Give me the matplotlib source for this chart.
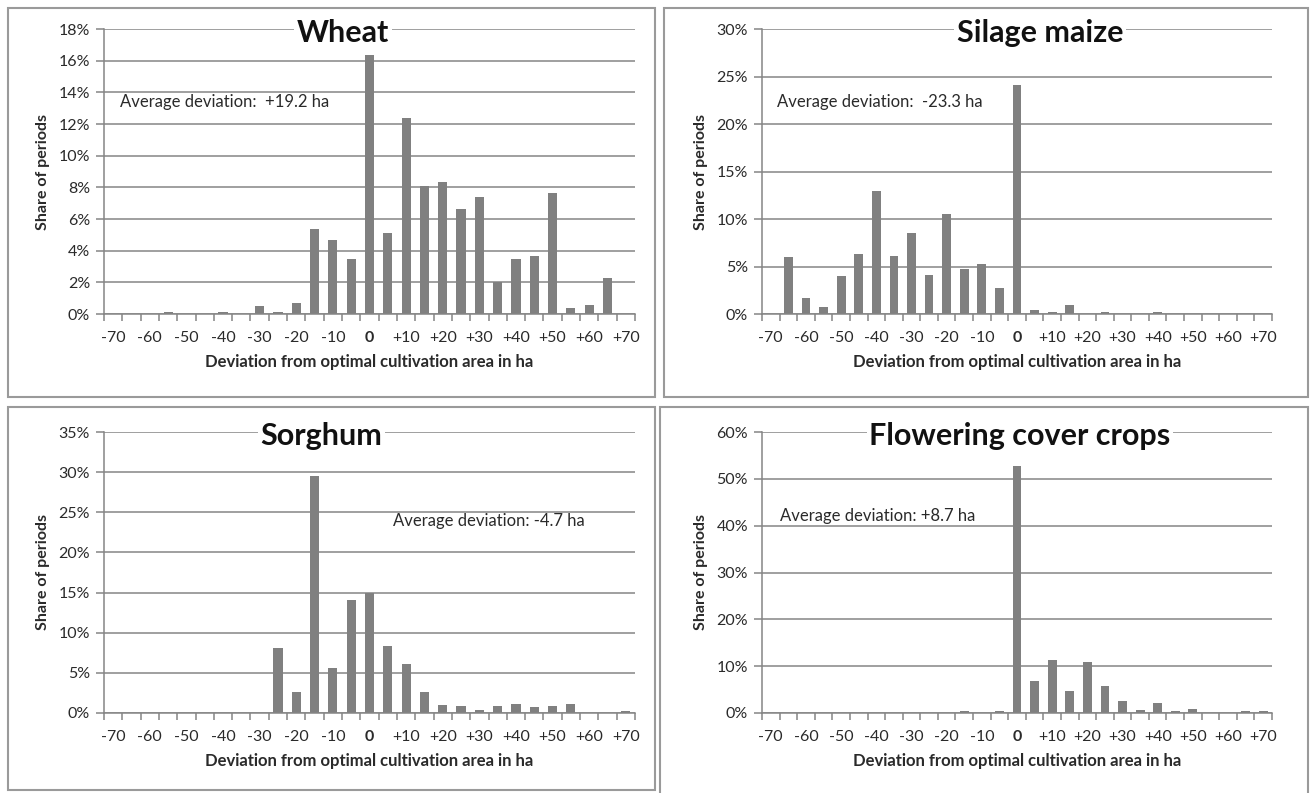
import matplotlib
matplotlib.use("Agg")
import matplotlib.pyplot as plt
from matplotlib.patches import Rectangle
import numpy as np

plt.rcParams['font.family'] = ['Lato', 'DejaVu Sans']

# ---- data ----
deviation = list(range(-70, 75, 5))  # categories (ha)
tick_labels = ['-70', '-60', '-50', '-40', '-30', '-20', '-10', '0',
               '+10', '+20', '+30', '+40', '+50', '+60', '+70']

wheat = [0, 0, 0, 0.1, 0, 0, 0.1, 0, 0.5, 0.1, 0.7, 5.35, 4.65, 3.5, 16.35,
         5.1, 12.35, 8.1, 8.35, 6.65, 7.4, 2.0, 3.5, 3.65, 7.65, 0.35, 0.55, 2.3, 0]
silage_maize = [0, 5.95, 1.7, 0.7, 3.95, 6.35, 12.9, 6.1, 8.5, 4.15, 10.5, 4.7, 5.25, 2.7,
                24.15, 0.4, 0.2, 0.9, 0, 0.2, 0, 0, 0.2, 0, 0, 0, 0, 0, 0]
sorghum = [0, 0, 0, 0, 0, 0, 0, 0, 0, 8.1, 2.65, 29.5, 5.65, 14.05, 15.0, 8.4, 6.1,
           2.65, 1.05, 0.85, 0.35, 0.85, 1.15, 0.7, 0.85, 1.15, 0, 0, 0.2]
flowering = [0, 0, 0, 0, 0, 0, 0, 0, 0, 0, 0, 0.4, 0, 0.4, 52.8, 6.9, 11.4, 4.6, 10.9,
             5.8, 2.6, 0.6, 2.1, 0.4, 0.9, 0, 0, 0.4, 0.4]

titles = ['Wheat', 'Silage maize', 'Sorghum', 'Flowering cover crops']
avg_texts = ['Average deviation:  +19.2 ha', 'Average deviation:  -23.3 ha',
             'Average deviation: -4.7 ha', 'Average deviation: +8.7 ha']
ymaxes = [18, 30, 35, 60]
ysteps = [2, 5, 5, 10]
series = [wheat, silage_maize, sorghum, flowering]

# ---- layout (pixels) ----
W, H = 1310, 793
fig = plt.figure(figsize=(W / 100, H / 100), dpi=100)

def fx(px):
    return px / W

def fy(py):
    return 1 - py / H

axes_px = [(104, 29, 635, 314), (762, 29, 1272, 314),
           (104, 432, 635, 713), (762, 432, 1272, 713)]
title_x = [0.45, 0.545, 0.41, 0.506]
avg_pos = [(0.03, 0.745), (0.03, 0.745), (0.545, 0.685), (0.035, 0.70)]

grey = '#858585'
bar_col = '#808080'
txt = '#2a2a2a'

for i in range(4):
    x0, y0, x1, y1 = axes_px[i]
    ax = fig.add_axes([fx(x0), fy(y1), fx(x1 - x0), (y1 - y0) / H])
    idx = np.arange(len(deviation))
    ax.bar(idx, series[i], width=0.5, color=bar_col, zorder=2)
    ax.set_xlim(-0.5, len(deviation) - 0.5)
    ax.set_ylim(0, ymaxes[i])
    yt = np.arange(0, ymaxes[i] + 0.001, ysteps[i])
    ax.set_yticks(yt)
    ax.set_yticklabels([f'{v:.0f}%' for v in yt])
    ax.yaxis.grid(True, color=grey, linewidth=1.1, zorder=0)
    ax.set_axisbelow(True)
    ax.set_xticks(idx[::2])
    ax.set_xticklabels(tick_labels)
    ax.set_xticks(np.arange(-0.5, len(deviation), 1), minor=True)
    ax.tick_params(axis='x', which='major', length=0, pad=12, labelsize=11.5, colors=txt)
    ax.tick_params(axis='x', which='minor', length=5, width=1.1, color=grey, direction='out')
    ax.tick_params(axis='y', length=6, width=1.1, color=grey, pad=4, labelsize=11.5,
                   labelcolor=txt)
    for lab in ax.get_xticklabels():
        if lab.get_text() == '0':
            lab.set_fontweight('bold')
    for s in ['top', 'right']:
        ax.spines[s].set_visible(False)
    for s in ['left', 'bottom']:
        ax.spines[s].set_color(grey)
        ax.spines[s].set_linewidth(1.1)
    ax.set_ylabel('Share of periods', fontsize=11.5, fontweight='bold', labelpad=6, color=txt)
    ax.set_xlabel('Deviation from optimal cultivation area in ha', fontsize=12,
                  fontweight='bold', labelpad=7, color=txt)
    ax.text(title_x[i], 0.985, titles[i], transform=ax.transAxes, ha='center', va='center',
            fontsize=22, fontweight='bold', zorder=5, color='#111111',
            bbox=dict(facecolor='white', edgecolor='none', pad=2))
    ax.text(avg_pos[i][0], avg_pos[i][1], avg_texts[i], transform=ax.transAxes,
            ha='left', va='center', fontsize=12, color=txt, zorder=5)

# panel frames
boxes = [(8, 8, 655, 397), (664, 8, 1308, 397), (8, 407, 655, 790), (660, 407, 1308, 800)]
for (bx0, by0, bx1, by1) in boxes:
    fig.add_artist(Rectangle((fx(bx0), fy(by1)), fx(bx1 - bx0), (by1 - by0) / H,
                             transform=fig.transFigure, fill=False,
                             edgecolor='#9a9a9a', linewidth=1.5, clip_on=False))

fig.savefig('out.png', dpi=100)
